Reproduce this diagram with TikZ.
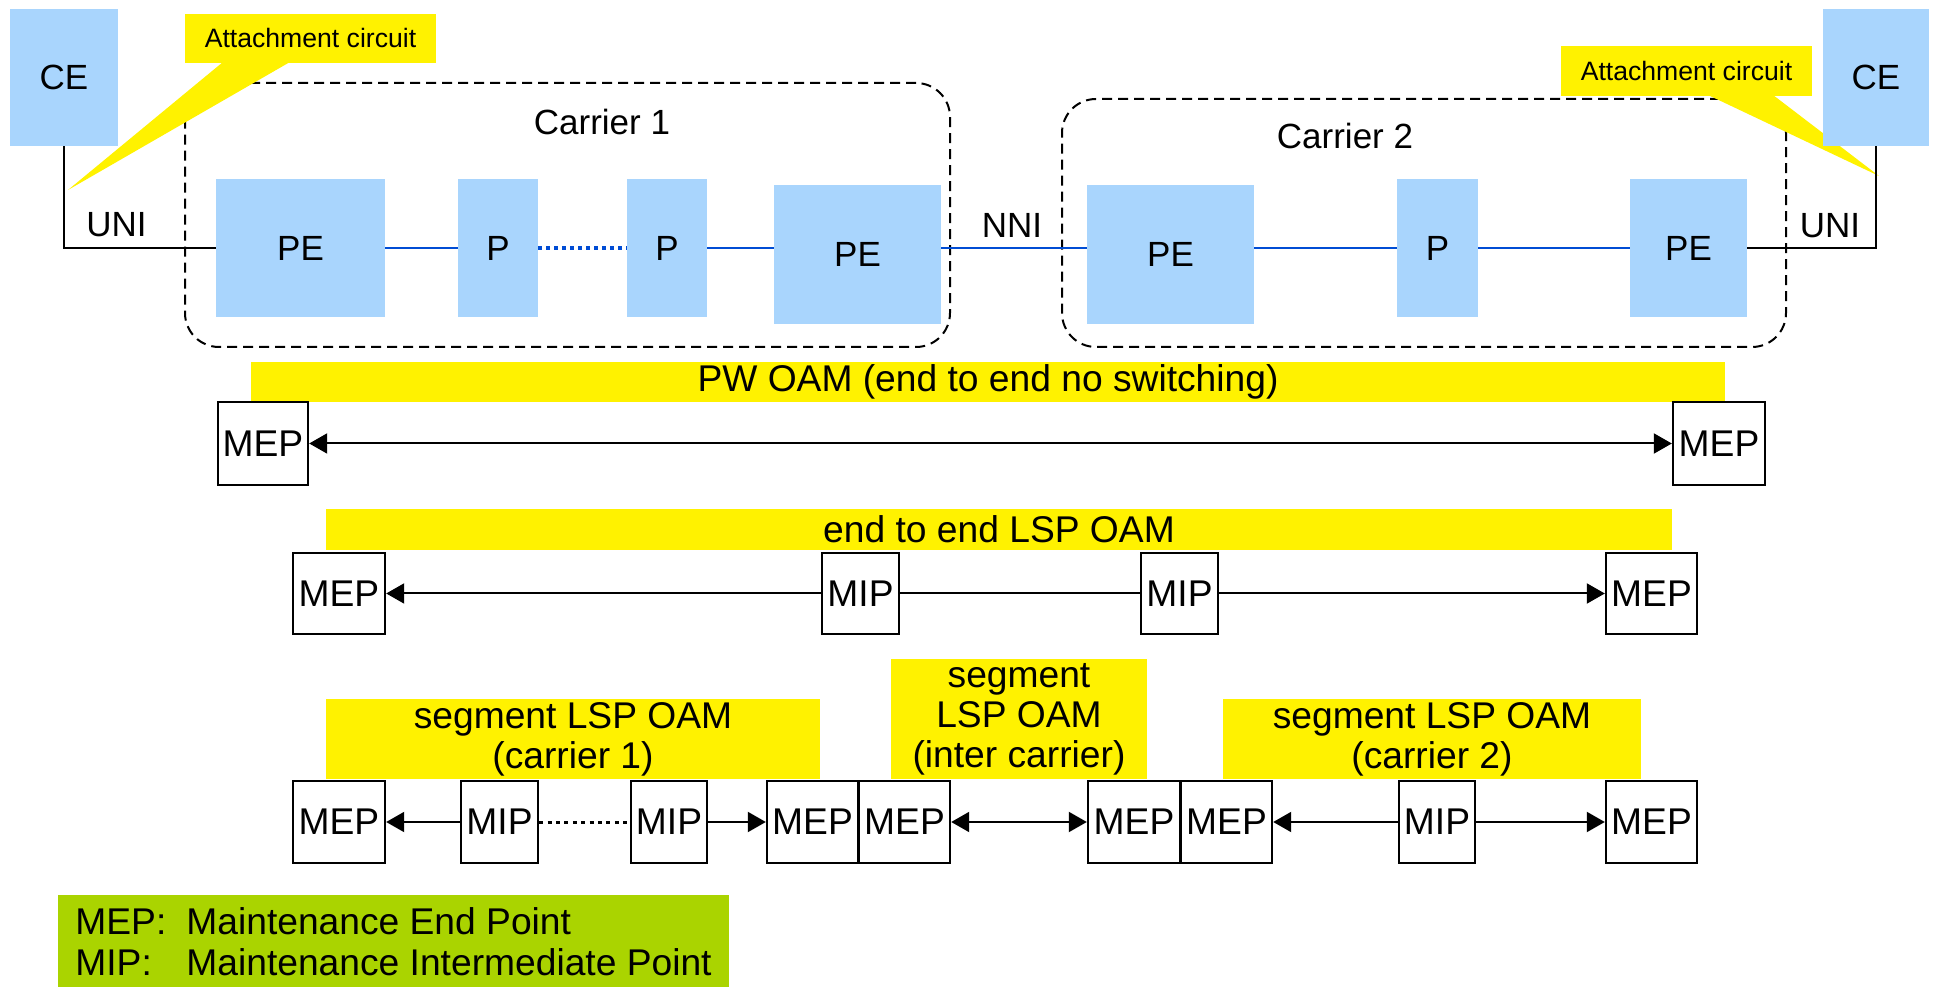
\documentclass[tikz,border=0pt]{standalone}
\usepackage{fontspec}
\setmainfont{Liberation Sans}
\usetikzlibrary{arrows.meta}
\definecolor{nodeblue}{RGB}{169,213,253}
\definecolor{linkblue}{RGB}{0,76,212}
\definecolor{legendgreen}{RGB}{170,212,0}

\begin{document}
\begin{tikzpicture}[x=0.5pt,y=-0.5pt,
  netbox/.style={fill=nodeblue, inner sep=0pt, font=\fontsize{17.5}{21}\selectfont},
  toplabel/.style={inner sep=0pt, font=\fontsize{17.5}{21}\selectfont},
  carrier/.style={draw, dash pattern=on 5pt off 3pt, line width=1pt, rounded corners=17pt, inner sep=0pt},
  callout/.style={fill=yellow},
  acbox/.style={fill=yellow, inner sep=0pt, font=\fontsize{13.3}{16}\selectfont},
  link/.style={draw=linkblue, line width=1.3pt},
  linkdots/.style={link, dash pattern=on 2pt off 2pt, line width=1.6pt},
  uni/.style={draw, line width=1pt},
  oambar/.style={fill=yellow, inner sep=0pt, align=center, font=\fontsize{18.6}{20}\selectfont},
  pointbox/.style={draw, line width=1.2pt, fill=white, inner sep=0pt, font=\fontsize{18.6}{22}\selectfont},
  oam/.style={draw, line width=1pt},
  oamdots/.style={draw, line width=1.5pt, dash pattern=on 2pt off 2.2pt},
  tohead/.style={-{Triangle[length=9pt,width=10pt]}},
  bothheads/.style={{Triangle[length=9pt,width=10pt]}-{Triangle[length=9pt,width=10pt]}},
]
\useasboundingbox (0,0) rectangle (1939,988);

% carrier domains
\node[carrier, minimum width=382.5pt, minimum height=132pt] (carrierA) at (567.5,215) {};
\node[carrier, minimum width=362pt, minimum height=124pt] (carrierB) at (1424,223) {};
\node[toplabel] (carrierAlabel) at (602,122) {Carrier 1};
\node[toplabel] (carrierBlabel) at (1345,136) {Carrier 2};

% attachment circuit callouts
\fill[callout] (223,62) -- (290,62) -- (68,190) -- cycle;
\fill[callout] (1708,95) -- (1773,95) -- (1879,176) -- cycle;
\node[acbox, minimum width=125.5pt, minimum height=24.5pt] (acA) at (310.5,38.5) {Attachment circuit};
\node[acbox, minimum width=125.5pt, minimum height=25pt] (acB) at (1686.5,71) {Attachment circuit};

% customer and provider equipment
\node[netbox, minimum width=54pt, minimum height=68.5pt] (ceA) at (64,77.5) {CE};
\node[netbox, minimum width=53pt, minimum height=68.5pt] (ceB) at (1876,77.5) {CE};
\node[netbox, minimum width=84.5pt, minimum height=69pt] (peA) at (300.5,248) {PE};
\node[netbox, minimum width=40pt, minimum height=69pt] (pA) at (498,248) {P};
\node[netbox, minimum width=40pt, minimum height=69pt] (pB) at (667,248) {P};
\node[netbox, minimum width=83.5pt, minimum height=69.5pt] (peB) at (857.5,254.5) {PE};
\node[netbox, minimum width=83.5pt, minimum height=69.5pt] (peC) at (1170.5,254.5) {PE};
\node[netbox, minimum width=40.5pt, minimum height=69pt] (pC) at (1437.5,248) {P};
\node[netbox, minimum width=58.5pt, minimum height=69pt] (peD) at (1688.5,248) {PE};

% links
\draw[uni] (ceA.south) |- (peA.west);
\draw[link] (peA.east) -- (pA.west);
\draw[linkdots] (pA.east) -- (pB.west);
\draw[link] (pB.east) -- (pB.east -| peB.west);
\draw[link] (peB.east |- pB.east) -- (peC.west |- pC.west);
\draw[link] (peC.east |- pC.west) -- (pC.west);
\draw[link] (pC.east) -- (peD.west);
\draw[uni] (ceB.south) |- (peD.east);

\node[toplabel] (uniA) at (116.5,225) {UNI};
\node[toplabel] (nni) at (1012,225) {NNI};
\node[toplabel] (uniB) at (1830,226) {UNI};

% PW OAM
\node[oambar, minimum width=737pt, minimum height=20pt] (pwbar) at (988,382) {PW OAM (end to end no switching)};
\node[pointbox, minimum width=45pt, minimum height=41.5pt] (pwL) at (263,443.5) {MEP};
\node[pointbox, minimum width=46pt, minimum height=41.5pt] (pwR) at (1719,443.5) {MEP};
\draw[oam, bothheads] (pwL.east) -- (pwR.west);

% end to end LSP OAM
\node[oambar, minimum width=673pt, minimum height=20.5pt] (lspbar) at (999,529.5) {end to end LSP OAM};
\node[pointbox, minimum width=46pt, minimum height=40.5pt] (lspL) at (339,593.5) {MEP};
\node[pointbox, minimum width=38.5pt, minimum height=40.5pt] (lspMa) at (860.5,593.5) {MIP};
\node[pointbox, minimum width=38.5pt, minimum height=40.5pt] (lspMb) at (1179.5,593.5) {MIP};
\node[pointbox, minimum width=45.5pt, minimum height=40.5pt] (lspR) at (1651.5,593.5) {MEP};
\draw[oam, tohead] (lspMa.west) -- (lspL.east);
\draw[oam] (lspMa.east) -- (lspMb.west);
\draw[oam, tohead] (lspMb.east) -- (lspR.west);

% segment LSP OAM
\node[oambar, minimum width=247pt, minimum height=40pt] (segA) at (573,739) {segment LSP OAM\\(carrier 1)};
\node[oambar, minimum width=128pt, minimum height=60pt] (segB) at (1019,719) {segment\\LSP OAM\\(inter carrier)};
\node[oambar, minimum width=209pt, minimum height=40pt] (segC) at (1432,739) {segment LSP OAM\\(carrier 2)};

\node[pointbox, minimum width=46pt, minimum height=41pt] (sA) at (339,822) {MEP};
\node[pointbox, minimum width=38.5pt, minimum height=41pt] (sB) at (499.5,822) {MIP};
\node[pointbox, minimum width=38pt, minimum height=41pt] (sC) at (669,822) {MIP};
\node[pointbox, minimum width=45.5pt, minimum height=41pt] (sD) at (812.5,822) {MEP};
\node[pointbox, minimum width=45.5pt, minimum height=41pt] (sE) at (904.5,822) {MEP};
\node[pointbox, minimum width=46pt, minimum height=41pt] (sF) at (1134,822) {MEP};
\node[pointbox, minimum width=45.5pt, minimum height=41pt] (sG) at (1226.5,822) {MEP};
\node[pointbox, minimum width=38pt, minimum height=41pt] (sH) at (1437,822) {MIP};
\node[pointbox, minimum width=45.5pt, minimum height=41pt] (sI) at (1651.5,822) {MEP};
\draw[oam, tohead] (sB.west) -- (sA.east);
\draw[oamdots] (sB.east) -- (sC.west);
\draw[oam, tohead] (sC.east) -- (sD.west);
\draw[oam, bothheads] (sE.east) -- (sF.west);
\draw[oam, tohead] (sH.west) -- (sG.east);
\draw[oam, tohead] (sH.east) -- (sI.west);

% legend
\node[fill=legendgreen, inner sep=0pt, minimum width=335.5pt, minimum height=46pt] (legend) at (393.5,941) {};
\node[inner sep=0pt, anchor=west, align=left, font=\fontsize{18.6}{20.5}\selectfont] (legendtext) at (75,941.5)
  {\makebox[55.5pt][l]{MEP:}Maintenance End Point\\\makebox[55.5pt][l]{MIP:}Maintenance Intermediate Point};
\end{tikzpicture}
\end{document}
